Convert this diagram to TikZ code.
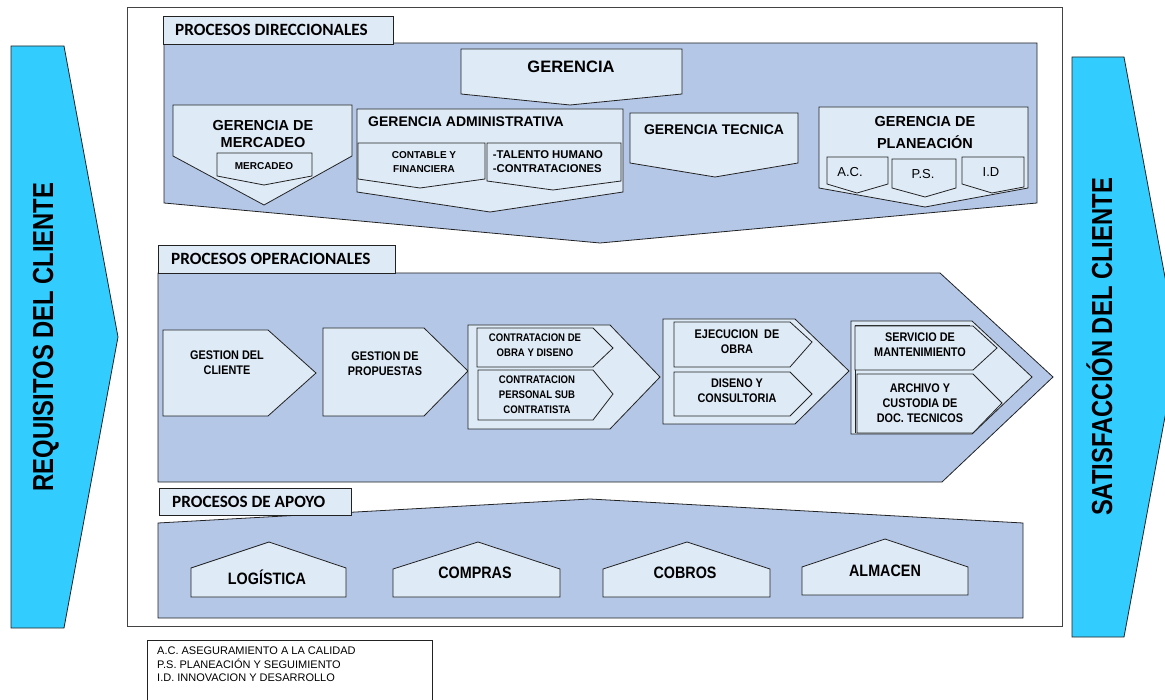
\documentclass[tikz,border=0pt]{standalone}
\usepackage{fontspec}
\setmainfont{Liberation Sans}
\newfontfamily\labfont{Carlito}
\newfontfamily\narrowfont{Liberation Sans}[FakeStretch=0.87]
\newfontfamily\vertfont{Liberation Sans}[FakeStretch=0.82]
\newcommand{\fsz}[2]{\fontsize{#1}{#2}\selectfont}
\definecolor{secfill}{HTML}{B4C7E7}
\definecolor{boxfill}{HTML}{DEEAF6}
\definecolor{arrowcyan}{HTML}{33CCFF}
\definecolor{edge}{HTML}{222222}
\begin{document}
\begin{tikzpicture}[x=1pt,y=-1pt,
  sec/.style={draw=edge,fill=secfill,line width=0.8pt},
  box/.style={draw=edge,fill=boxfill,line width=0.8pt},
  labbox/.style={draw=edge,fill=boxfill,line width=0.9pt},
  sidearrow/.style={draw=edge,fill=arrowcyan,line width=0.8pt},
  frame/.style={draw=edge!85,line width=0.9pt},
  txt/.style={inner sep=0pt,align=center,text=black},
  labtxt/.style={inner sep=0pt,anchor=west,font=\labfont\bfseries\fsz{17.2}{18}},
  gertxt/.style={txt,font=\bfseries\fsz{14.5}{17}},
  smalltxt/.style={txt,font=\bfseries\fsz{10}{14}},
  optxt/.style={txt,font=\narrowfont\bfseries\fsz{12.5}{15}},
  opsmall/.style={txt,font=\narrowfont\bfseries\fsz{11}{15}},
  apotxt/.style={txt,font=\narrowfont\bfseries\fsz{16.5}{18}},
  vtxt/.style={inner sep=0pt,rotate=90,anchor=base,font=\vertfont\bfseries\fsz{29}{29}}]
\useasboundingbox (0,0) rectangle (1165,700);
\clip (0,0) rectangle (1165,700);

% client arrows on both sides
\draw[sidearrow] (11,46) -- (64,46) -- (118,337) -- (64,628) -- (11,628) -- cycle;
\draw[sidearrow] (1072,57) -- (1124,57) -- (1178,347) -- (1124,637) -- (1072,637) -- cycle;
\node[vtxt] (req) at (53,337) {REQUISITOS DEL CLIENTE};
\node[vtxt] (sat) at (1112,347) {SATISFACCIÓN DEL CLIENTE};

% outer frame
\draw[frame] (127,7) rectangle (1062,626);

% ---------- directive processes ----------
\draw[sec] (164,43) -- (1037,43) -- (1037,203) -- (600,243) -- (164,203) -- cycle;
\draw[labbox] (163,16) rectangle (393,44);
\node[labtxt] (dirlab) at (175,30) {PROCESOS DIRECCIONALES};

\draw[box] (461,49) -- (682,49) -- (682,94) -- (570,105) -- (461,94) -- cycle;
\node[txt,font=\bfseries\fsz{16.5}{18}] (ger) at (571,67) {GERENCIA};

\draw[box] (173,105) -- (352,105) -- (352,156) -- (264,205) -- (173,156) -- cycle;
\node[gertxt] (germ) at (263,134) {GERENCIA DE\\MERCADEO};
\draw[box] (217,153) -- (312,153) -- (312,176) -- (264,185) -- (217,176) -- cycle;
\node[txt,font=\bfseries\fsz{10}{12}] (merc) at (264,166) {MERCADEO};

\draw[box] (357,109) -- (623,109) -- (623,192) -- (490,212) -- (357,192) -- cycle;
\node[txt,anchor=west,font=\bfseries\fsz{14}{16}] (gera) at (368,122) {GERENCIA ADMINISTRATIVA};
\draw[box] (358,143) -- (485,143) -- (485,179) -- (420,188) -- (358,179) -- cycle;
\node[smalltxt] (cont) at (424,162) {CONTABLE Y\\FINANCIERA};
\draw[box] (487,143) -- (621,143) -- (621,181) -- (553,190) -- (487,181) -- cycle;
\node[txt,align=left,font=\bfseries\fsz{11.3}{14}] (tal) at (548,162) {-TALENTO HUMANO\\-CONTRATACIONES};

\draw[box] (630,113) -- (798,113) -- (798,163) -- (715,177) -- (630,163) -- cycle;
\node[txt,font=\bfseries\fsz{14}{16}] (gert) at (714,130) {GERENCIA TECNICA};

\draw[box] (819,107) -- (1028,107) -- (1028,188) -- (925,207) -- (819,188) -- cycle;
\node[txt,font=\bfseries\fsz{14.5}{22}] (gerp) at (925,133) {GERENCIA DE\\PLANEACIÓN};
\draw[box] (827,157) -- (888,157) -- (888,184) -- (857,193) -- (827,184) -- cycle;
\node[txt,font=\fsz{13}{14}] (ac) at (850,172) {A.C.};
\draw[box] (892,159) -- (956,159) -- (956,188) -- (925,197) -- (892,188) -- cycle;
\node[txt,font=\fsz{13}{14}] (ps) at (923,174) {P.S.};
\draw[box] (962,157) -- (1024,157) -- (1024,187) -- (992,193) -- (962,184) -- cycle;
\node[txt,font=\fsz{13}{14}] (id) at (991,172) {I.D};

% ---------- operational processes ----------
\draw[sec] (158,273) -- (940,273) -- (1053,377) -- (942,482) -- (158,482) -- cycle;
\draw[labbox] (158,245) rectangle (395,273);
\node[labtxt] (oplab) at (171,259) {PROCESOS OPERACIONALES};

\draw[box] (163,330) -- (268,330) -- (316,373) -- (268,416) -- (163,416) -- cycle;
\node[optxt] (gcli) at (227,363) {GESTION DEL\\CLIENTE};
\draw[box] (323,328) -- (424,328) -- (468,371) -- (424,416) -- (323,416) -- cycle;
\node[optxt] (gpro) at (385,364) {GESTION DE\\PROPUESTAS};

\draw[box] (468,325) -- (610,325) -- (660,377) -- (610,429) -- (468,429) -- cycle;
\draw[box] (477,328) -- (593,328) -- (613,348) -- (593,367) -- (477,367) -- cycle;
\node[opsmall] (cobra) at (535,345) {CONTRATACION DE\\OBRA Y DISENO};
\draw[box] (478,370) -- (593,370) -- (613,394) -- (593,420) -- (478,420) -- cycle;
\node[opsmall] (cpers) at (537,395) {CONTRATACION\\PERSONAL SUB\\CONTRATISTA};

\draw[box] (663,319) -- (795,319) -- (849,371) -- (795,424) -- (663,424) -- cycle;
\draw[box] (674,322) -- (790,322) -- (812,342) -- (790,367) -- (674,367) -- cycle;
\node[optxt] (ejec) at (737,342) {EJECUCION~~DE\\OBRA};
\draw[box] (674,372) -- (790,372) -- (812,394) -- (790,416) -- (674,416) -- cycle;
\node[optxt] (dise) at (737,391) {DISENO Y\\CONSULTORIA};

\draw[box] (851,321) -- (972,321) -- (1032,377) -- (972,434) -- (851,434) -- cycle;
\draw[edge,line width=0.8pt] (855,433) -- (855,325) -- (970,325);
\draw[box] (855,326) -- (973,326) -- (997,348) -- (973,370) -- (855,370) -- cycle;
\node[optxt] (serv) at (920,345) {SERVICIO DE\\MANTENIMIENTO};
\draw[box] (857,374) -- (973,374) -- (1002,403) -- (973,433) -- (857,433) -- cycle;
\node[optxt] (arch) at (920,403) {ARCHIVO Y\\CUSTODIA DE\\DOC. TECNICOS};

% ---------- support processes ----------
\draw[sec] (158,523) -- (590,499) -- (1023,523) -- (1023,618) -- (158,618) -- cycle;
\draw[labbox] (159,488) rectangle (351,515);
\node[labtxt] (aplab) at (172,502) {PROCESOS DE APOYO};

\draw[box] (191,597) -- (191,568) -- (269,542) -- (346,568) -- (346,597) -- cycle;
\node[apotxt] (log) at (267,577) {LOGÍSTICA};
\draw[box] (393,597) -- (393,569) -- (478,542) -- (560,569) -- (560,597) -- cycle;
\node[apotxt] (comp) at (475,573) {COMPRAS};
\draw[box] (603,597) -- (603,569) -- (687,542) -- (770,569) -- (770,597) -- cycle;
\node[apotxt] (cobr) at (685,573) {COBROS};
\draw[box] (802,595) -- (802,567) -- (885,539) -- (968,567) -- (968,595) -- cycle;
\node[apotxt] (alm) at (885,571) {ALMACEN};

% ---------- legend ----------
\draw[edge,line width=0.8pt] (147,640) rectangle (432,710);
\node[inner sep=0pt,anchor=north west,align=left,font=\fsz{11}{13.5}] (leg) at (157,647)
  {A.C. ASEGURAMIENTO A LA CALIDAD\\P.S. PLANEACIÓN Y SEGUIMIENTO\\I.D. INNOVACION Y DESARROLLO};
\end{tikzpicture}
\end{document}
